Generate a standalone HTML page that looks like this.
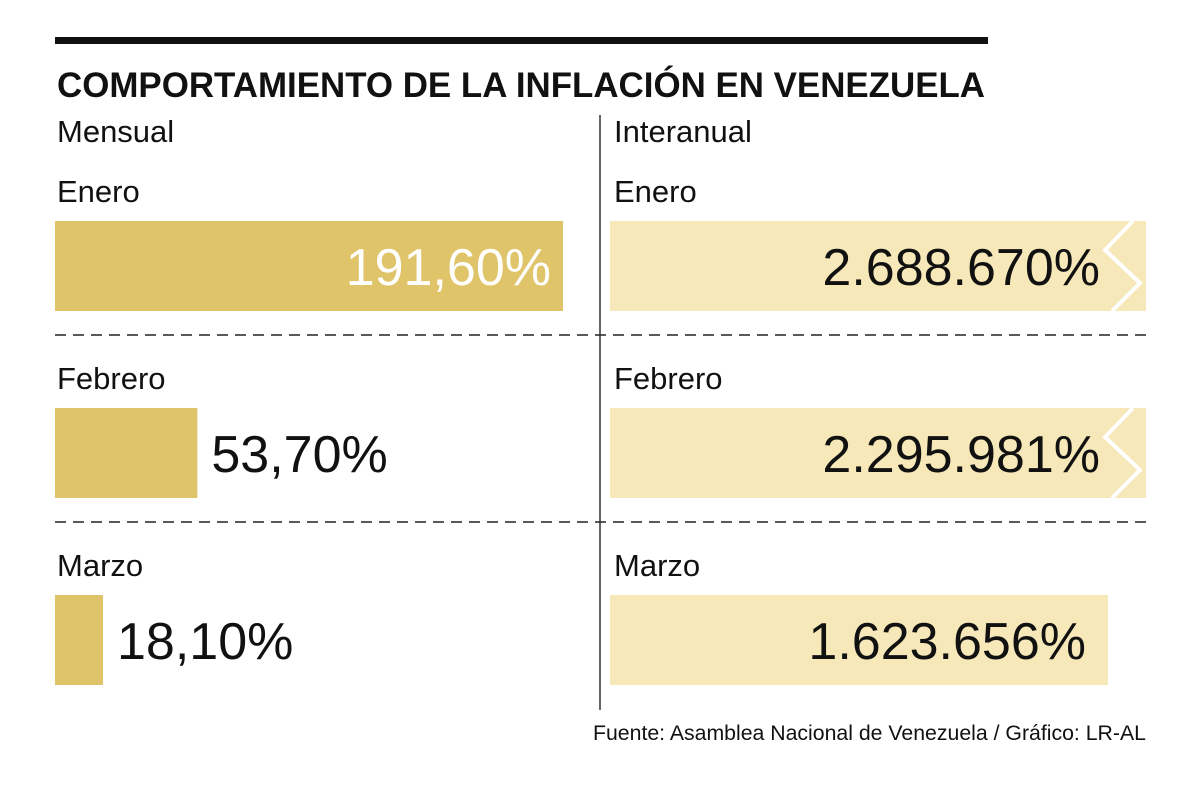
<!DOCTYPE html>
<html><head><meta charset="utf-8"><style>
body{margin:0;background:#fff;width:1200px;height:781px;overflow:hidden;font-family:"Liberation Sans",sans-serif;}
svg text{font-family:"Liberation Sans",sans-serif;}
</style></head><body>
<svg width="1200" height="781">
<rect x="55" y="37" width="933" height="7" fill="#111"/>
<text x="57" y="97" font-size="35" font-weight="bold" fill="#111" textLength="928" lengthAdjust="spacingAndGlyphs">COMPORTAMIENTO DE LA INFLACIÓN EN VENEZUELA</text>
<text x="57" y="142" font-size="31" fill="#111">Mensual</text>
<text x="614" y="142" font-size="31" fill="#111">Interanual</text>
<line x1="600" y1="115" x2="600" y2="710" stroke="#333" stroke-width="1.5"/>
<line x1="55" y1="335" x2="1146" y2="335" stroke="#222" stroke-width="1.5" stroke-dasharray="11,7"/>
<line x1="55" y1="522" x2="1146" y2="522" stroke="#222" stroke-width="1.5" stroke-dasharray="11,7"/>
<g id="bars"></g>
<text x="593" y="740" font-size="21" fill="#111" textLength="553" lengthAdjust="spacingAndGlyphs">Fuente: Asamblea Nacional de Venezuela / Gráfico: LR-AL</text>
</svg>
<script>
const months = ["Enero","Febrero","Marzo"];
const monthly = [191.60, 53.70, 18.10];
const monthlyLabels = ["191,60%","53,70%","18,10%"];
const yearly = [2688670, 2295981, 1623656];
const yearlyLabels = ["2.688.670%","2.295.981%","1.623.656%"];

const NS="http://www.w3.org/2000/svg";
const g=document.getElementById('bars');
const rowTop=[221,408,595], barH=90;
const xL=55, pxPerUnit=508/191.6;
const xR=610, pxPerYear=498/1623656, maxR=536;
function mk(tag,attrs){const e=document.createElementNS(NS,tag);for(const k in attrs)e.setAttribute(k,attrs[k]);g.appendChild(e);return e;}
months.forEach((m,i)=>{
  const y=rowTop[i];
  let t=mk('text',{x:57,y:y-19,'font-size':31,fill:'#111'});t.textContent=m;
  
  
  t=mk('text',{x:614,y:y-19,'font-size':31,fill:'#111'});t.textContent=m;
  
  
  const w=monthly[i]*pxPerUnit;
  let b=mk('rect',{x:xL,y:y,width:w,height:barH,fill:'#dfc46a'});
  
  
  const inside=w>300;
  t=mk('text',{x:inside?xL+w-12:xL+w+14,y:y+64,'font-size':52,fill:inside?'#fff':'#111','text-anchor':inside?'end':'start'});
  t.textContent=monthlyLabels[i];
  
  
  let wr=yearly[i]*pxPerYear; const broken=wr>maxR; if(broken)wr=maxR;
  b=mk('rect',{x:xR,y:y,width:wr,height:barH,fill:'#f6e8b8'});
  
  
  if(broken){
    const ex=xR+wr;
    const p=mk('polyline',{points:`${ex-13},${y} ${ex-41},${y+29} ${ex-6},${y+62} ${ex-34},${y+barH}`,fill:'none',stroke:'#fff','stroke-width':4});
    
    
  }
  t=mk('text',{x:broken?xR+wr-46:xR+wr-22,y:y+64,'font-size':52,fill:'#111','text-anchor':'end'});
  t.textContent=yearlyLabels[i];
  
  
});
</script>
</body></html>
